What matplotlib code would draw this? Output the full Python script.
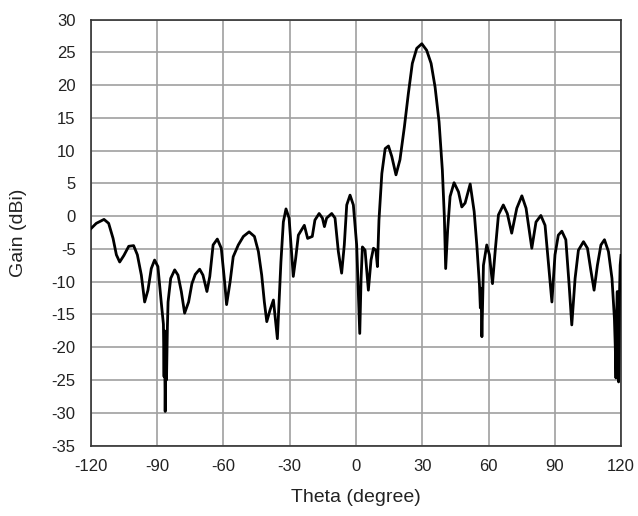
import matplotlib
matplotlib.use('Agg')
import matplotlib.pyplot as plt
import numpy as np

plt.rcParams.update({
    'font.family': ['Liberation Sans', 'DejaVu Sans'],
    'font.size': 12,
    'axes.unicode_minus': False,
})

# radiation pattern (theta in degree, gain in dBi)
theta = [
    -120, -117.6, -114.1, -112.0, -110.0, -108.5, -107.0, -105.1, -102.9, -100.7,
    -99.0, -97.2, -95.7, -94.2, -92.7, -91.2, -89.7, -88.2, -87.2, -86.9,
    -86.7, -86.4, -86.1, -85.8, -85.4, -85.1, -83.9, -82.1, -80.6, -79.1,
    -77.6, -75.8, -74.3, -72.8, -70.8, -69.3, -67.5, -66.2, -64.7, -62.8,
    -61.0, -59.5, -58.6, -57.0, -55.6, -53.3, -51.0, -48.4, -46.0, -44.2,
    -42.7, -41.5, -40.4, -38.9, -37.4, -36.7, -35.6, -34.9, -34.0, -32.9,
    -31.7, -30.3, -29.1, -28.4, -27.3, -26.1, -24.3, -23.4, -21.9, -19.8,
    -18.6, -16.7, -15.2, -14.3, -13.3, -11.0, -9.5, -8.0, -6.5, -5.3,
    -4.2, -2.7, -1.2, 0.3, 1.1, 1.7, 2.3, 2.9, 4.1, 5.6,
    6.8, 7.9, 9.0, 9.7, 10.4, 11.7, 13.2, 14.7, 16.2, 18.1,
    19.9, 21.9, 23.7, 25.5, 27.5, 29.8, 32.0, 34.0, 35.8, 37.6,
    39.1, 40.0, 40.6, 41.5, 42.6, 44.4, 46.4, 47.9, 49.4, 51.7,
    53.5, 54.7, 55.9, 56.3, 56.6, 57.0, 57.7, 59.2, 60.4, 61.8,
    63.0, 64.5, 66.7, 68.5, 70.5, 72.8, 75.1, 77.0, 79.6, 81.5,
    83.7, 85.6, 87.1, 88.7, 90.1, 91.6, 93.2, 95.0, 96.5, 97.7,
    99.2, 100.7, 103.0, 104.8, 106.3, 107.8, 109.3, 110.9, 112.5, 114.3,
    115.9, 117.0, 117.4, 117.7, 118.0, 118.3, 118.6, 118.9, 119.3, 119.6,
    120.0,
]
gain = [
    -1.9, -1.1, -0.5, -1.1, -3.4, -5.9, -7.0, -6.0, -4.6, -4.5,
    -5.9, -9.0, -13.1, -11.3, -8.0, -6.7, -7.7, -13.1, -16.5, -24.5,
    -17.5, -29.8, -20.0, -25.0, -16.9, -13.1, -9.5, -8.2, -9.0, -11.5,
    -14.8, -13.1, -10.3, -8.9, -8.1, -9.0, -11.5, -9.2, -4.4, -3.5,
    -4.9, -10.0, -13.5, -10.0, -6.2, -4.4, -3.1, -2.4, -3.1, -5.4,
    -9.0, -13.1, -16.1, -14.3, -12.8, -15.1, -18.7, -13.6, -7.0, -0.9,
    1.1, -0.3, -5.9, -9.2, -6.4, -2.9, -1.9, -1.4, -3.4, -3.1,
    -0.6, 0.4, -0.3, -1.6, -0.3, 0.4, -0.3, -5.4, -8.7, -4.4,
    1.7, 3.2, 1.7, -4.4, -12.0, -17.9, -9.5, -4.7, -5.2, -11.3,
    -6.7, -4.9, -5.2, -7.7, -0.6, 6.5, 10.3, 10.7, 9.1, 6.3,
    8.6, 13.6, 18.7, 23.3, 25.6, 26.3, 25.3, 23.3, 19.7, 14.4,
    7.0, -0.1, -8.0, -2.1, 3.0, 5.1, 3.7, 1.4, 2.0, 4.9,
    0.7, -4.4, -10.5, -14.0, -11.0, -18.4, -7.5, -4.4, -5.9, -10.3,
    -5.4, 0.2, 1.7, 0.4, -2.6, 1.2, 3.1, 1.2, -4.9, -0.9,
    0.1, -1.4, -7.0, -13.1, -5.9, -2.9, -2.3, -3.6, -10.5, -16.6,
    -9.5, -5.2, -3.9, -4.9, -8.2, -11.3, -7.5, -4.4, -3.6, -5.4,
    -9.5, -15.6, -20.0, -24.7, -15.0, -11.5, -20.0, -25.3, -12.0, -7.5,
    -6.0,
]

x_ticks = np.arange(-120, 121, 30)
y_ticks = np.arange(-35, 31, 5)

fig = plt.figure(figsize=(6.38, 5.16), dpi=100)
ax = fig.add_axes([0.1426, 0.1366, 0.8308, 0.8256])

ax.plot(theta, gain, color='black', lw=2.0, zorder=3)

ax.set_xlim(-120, 120)
ax.set_ylim(-35, 30)
ax.set_xticks(x_ticks)
ax.set_yticks(y_ticks)
ax.grid(True, color='#a0a0a0', lw=1.2)
ax.set_axisbelow(True)
ax.tick_params(length=0, labelsize=12, colors='#222222')
ax.tick_params(axis='x', pad=9.5)
ax.tick_params(axis='y', pad=11)
for s in ax.spines.values():
    s.set_color('#333333')
    s.set_linewidth(1.2)

ax.set_xlabel('Theta (degree)', fontsize=14, color='#222222')
ax.set_ylabel('Gain (dBi)', fontsize=14, color='#222222')
ax.xaxis.label.set_va('center')
ax.yaxis.label.set_va('center')
ax.xaxis.set_label_coords(0.5, -0.123)
ax.yaxis.set_label_coords(-0.136, 0.5)

fig.savefig('out.png', dpi=100)
